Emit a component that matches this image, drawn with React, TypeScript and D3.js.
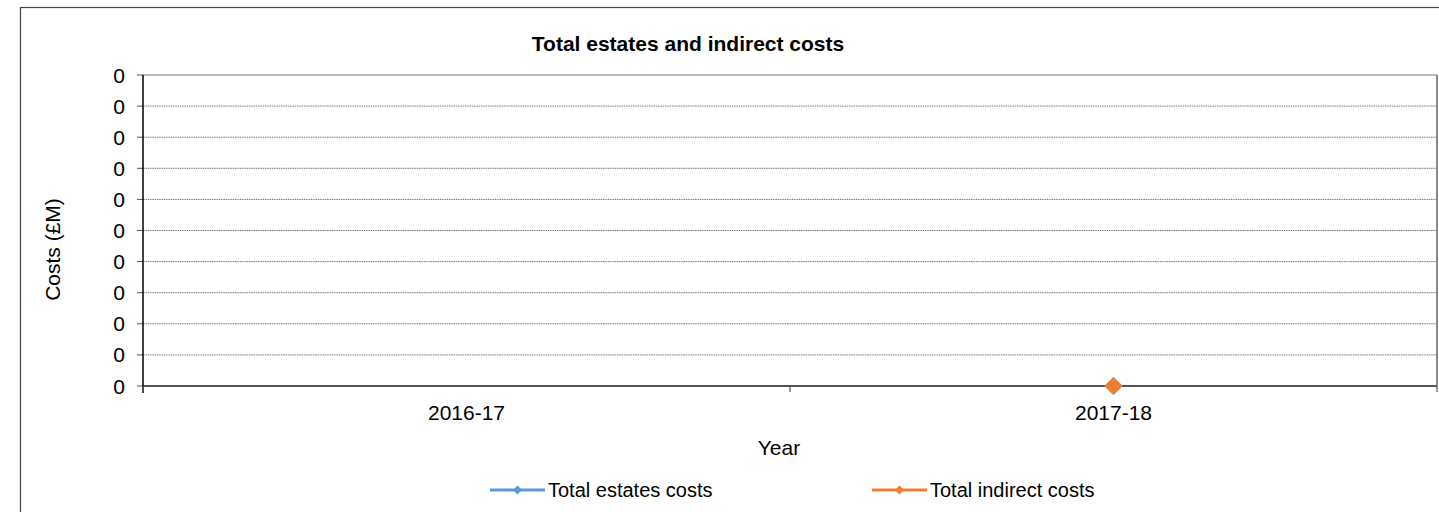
import React from "react";
import * as d3 from "d3";

const categories = ["2016-17", "2017-18"];
const estatesCosts: (number | null)[] = [null, 0];
const indirectCosts: (number | null)[] = [null, 0];
const yTicks = [0, 0.1, 0.2, 0.3, 0.4, 0.5, 0.6, 0.7, 0.8, 0.9, 1.0];
const yTickLabels = ["0", "0", "0", "0", "0", "0", "0", "0", "0", "0", "0"];
const seriesNames = ["Total estates costs", "Total indirect costs"];
const seriesColors = ["#5b9bd5", "#ed7d31"];

const W = 1439;
const H = 512;
const m = { left: 143, right: 1437, top: 75, bottom: 386 };
const font = "'Liberation Sans', Arial, sans-serif";

export default function App() {
  const x = d3.scaleBand().domain(categories).range([m.left, m.right]);
  const y = d3.scaleLinear().domain([0, 1]).range([m.bottom, m.top]);
  const series = [estatesCosts, indirectCosts];
  const diamond = d3.symbol().type(d3.symbolSquare).size(165)();
  const legendDiamond = d3.symbol().type(d3.symbolSquare).size(40)();
  const line = d3
    .line<number | null>()
    .defined((d) => d !== null)
    .x((_, i) => (x(categories[i]) as number) + x.bandwidth() / 2)
    .y((d) => y(d as number));
  const boundaries = [...categories.map((c) => x(c) as number), m.right];
  const legendX = [490, 872];

  return (
    <svg
      width={W}
      height={H}
      style={{ position: "fixed", left: 0, top: 0, background: "#fff" }}
      fontFamily={font}
    >
      <rect x={20.5} y={7.5} width={W + 10} height={H + 10} fill="#fff" stroke="#444" strokeWidth={1.2} />
      <text x={688} y={51} textAnchor="middle" fontSize={21} fontWeight="bold" fill="#000">
        Total estates and indirect costs
      </text>
      {yTicks.map((t, i) => (
        <g key={i}>
          <line
            x1={m.left}
            x2={m.right}
            y1={y(t)}
            y2={y(t)}
            stroke="#777"
            strokeWidth={1}
            strokeDasharray={i === 0 || i === yTicks.length - 1 ? undefined : "1.5,0.8"}
          />
          <line x1={m.left - 6} x2={m.left} y1={y(t)} y2={y(t)} stroke="#555" />
          <text x={125} y={y(t)} dy="0.36em" textAnchor="end" fontSize={21} fill="#000">
            {yTickLabels[i]}
          </text>
        </g>
      ))}
      <line x1={m.left} x2={m.right} y1={m.bottom} y2={m.bottom} stroke="#555" strokeWidth={2} />
      <line x1={m.right} x2={m.right} y1={m.top} y2={m.bottom} stroke="#666" strokeWidth={1.5} />
      <line x1={m.left} x2={m.left} y1={m.top} y2={m.bottom + 7} stroke="#000" strokeWidth={1.5} />
      {boundaries.map((b, i) => (
        <line key={i} x1={b} x2={b} y1={m.bottom} y2={m.bottom + 6} stroke="#555" strokeWidth={1.2} />
      ))}
      {categories.map((c) => (
        <text key={c} x={(x(c) as number) + x.bandwidth() / 2} y={420} textAnchor="middle" fontSize={21} fill="#000">
          {c}
        </text>
      ))}
      <text x={779} y={455} textAnchor="middle" fontSize={21} fill="#000">
        Year
      </text>
      <text
        transform={`translate(60,${(m.top + m.bottom) / 2 + 19}) rotate(-90)`}
        textAnchor="middle"
        fontSize={21}
        fill="#000"
      >
        Costs (£M)
      </text>
      {series.map((s, si) => (
        <g key={si}>
          <path d={line(s) || ""} fill="none" stroke={seriesColors[si]} strokeWidth={3} />
          {s.map((v, i) =>
            v === null ? null : (
              <path
                key={i}
                d={diamond as string}
                transform={`translate(${(x(categories[i]) as number) + x.bandwidth() / 2},${y(v)}) rotate(45)`}
                fill={seriesColors[si]}
              />
            )
          )}
        </g>
      ))}
      {seriesNames.map((n, i) => (
        <g key={n}>
          <line x1={legendX[i]} x2={legendX[i] + 55} y1={490} y2={490} stroke={seriesColors[i]} strokeWidth={3} />
          <path
            d={legendDiamond as string}
            transform={`translate(${legendX[i] + 27.5},490) rotate(45)`}
            fill={seriesColors[i]}
          />
          <text x={legendX[i] + 58} y={490} dy="0.36em" fontSize={20} fill="#000">
            {n}
          </text>
        </g>
      ))}
    </svg>
  );
}
